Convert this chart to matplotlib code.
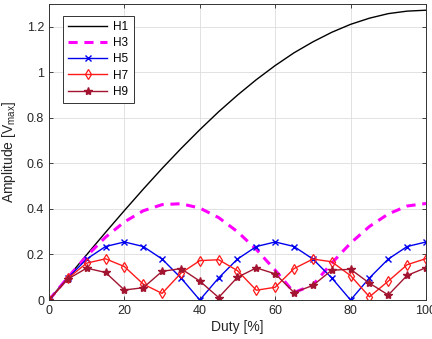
import matplotlib
matplotlib.use("Agg")
import matplotlib.pyplot as plt

# duty cycle samples [%]
duty = [0, 5, 10, 15, 20, 25, 30, 35, 40, 45, 50, 55, 60, 65, 70, 75, 80, 85, 90, 95, 100]

# harmonic amplitudes [Vmax]
h1 = [0.000, 0.100, 0.199, 0.297, 0.393, 0.487, 0.578, 0.665, 0.748, 0.827, 0.900,
      0.968, 1.030, 1.086, 1.134, 1.176, 1.211, 1.238, 1.258, 1.269, 1.273]
h3 = [0.000, 0.099, 0.193, 0.276, 0.343, 0.392, 0.419, 0.423, 0.404, 0.362, 0.300,
      0.222, 0.131, 0.033, 0.066, 0.162, 0.250, 0.323, 0.378, 0.413, 0.424]
h5 = [0.000, 0.097, 0.180, 0.235, 0.255, 0.235, 0.180, 0.097, 0.000, 0.097, 0.180,
      0.235, 0.255, 0.235, 0.180, 0.097, 0.000, 0.097, 0.180, 0.235, 0.255]
h7 = [0.000, 0.095, 0.162, 0.181, 0.147, 0.070, 0.029, 0.118, 0.173, 0.177, 0.129,
      0.043, 0.056, 0.138, 0.180, 0.168, 0.107, 0.014, 0.083, 0.155, 0.182]
h9 = [0.000, 0.092, 0.140, 0.121, 0.044, 0.054, 0.126, 0.138, 0.083, 0.011, 0.100,
      0.141, 0.115, 0.033, 0.064, 0.131, 0.135, 0.074, 0.022, 0.108, 0.142]

plt.rcParams['font.family'] = ['Liberation Sans', 'DejaVu Sans']
plt.rcParams['mathtext.fontset'] = 'custom'
plt.rcParams['mathtext.rm'] = 'Liberation Sans'

fig = plt.figure(figsize=(4.32, 3.39), dpi=100)
ax = fig.add_axes([0.1134, 0.115, 0.8727, 0.873])

dark_red = '#A2142F'
ax.plot(duty, h1, color='black', lw=1.0, label='H1')
ax.plot(duty, h3, color='magenta', lw=2.2, ls=(0, (3, 2.2)), label='H3')
ax.plot(duty, h5, color='#0000EE', lw=1.0, marker='x', ms=5, mew=1.0, label='H5')
ax.plot(duty, h7, color='#FF1A1A', lw=1.0, marker='d', ms=5.5, mfc='none', mew=0.9, label='H7')
ax.plot(duty, h9, color=dark_red, lw=1.0, marker='*', ms=6, label='H9')

ax.set_xlim(0, 100)
ax.set_ylim(0, 1.3)
ax.set_xticks([0, 20, 40, 60, 80, 100])
ax.set_yticks([0, 0.2, 0.4, 0.6, 0.8, 1, 1.2])
ax.set_yticklabels(['0', '0.2', '0.4', '0.6', '0.8', '1', '1.2'])
ax.grid(True, color='#DDDDDD', lw=0.6)
ax.set_axisbelow(True)
for s in ax.spines.values():
    s.set_color('#333333')
    s.set_linewidth(0.7)
ax.tick_params(direction='in', length=3, width=0.6, colors='#262626', labelsize=9,
               top=True, right=True)

ax.set_xlabel('Duty [%]', fontsize=10, color='#262626', labelpad=2)
ax.set_ylabel(r'Amplitude [V$_{\mathrm{max}}$]', fontsize=10, color='#262626', labelpad=6)

leg = ax.legend(loc='upper left', bbox_to_anchor=(0.037, 0.96), borderaxespad=0,
                fontsize=8.5, fancybox=False, framealpha=1, edgecolor='#333333',
                handlelength=3.3, handletextpad=0.5, labelspacing=0.35, borderpad=0.45)
leg.get_frame().set_linewidth(0.7)

fig.savefig('out.png', dpi=100)
